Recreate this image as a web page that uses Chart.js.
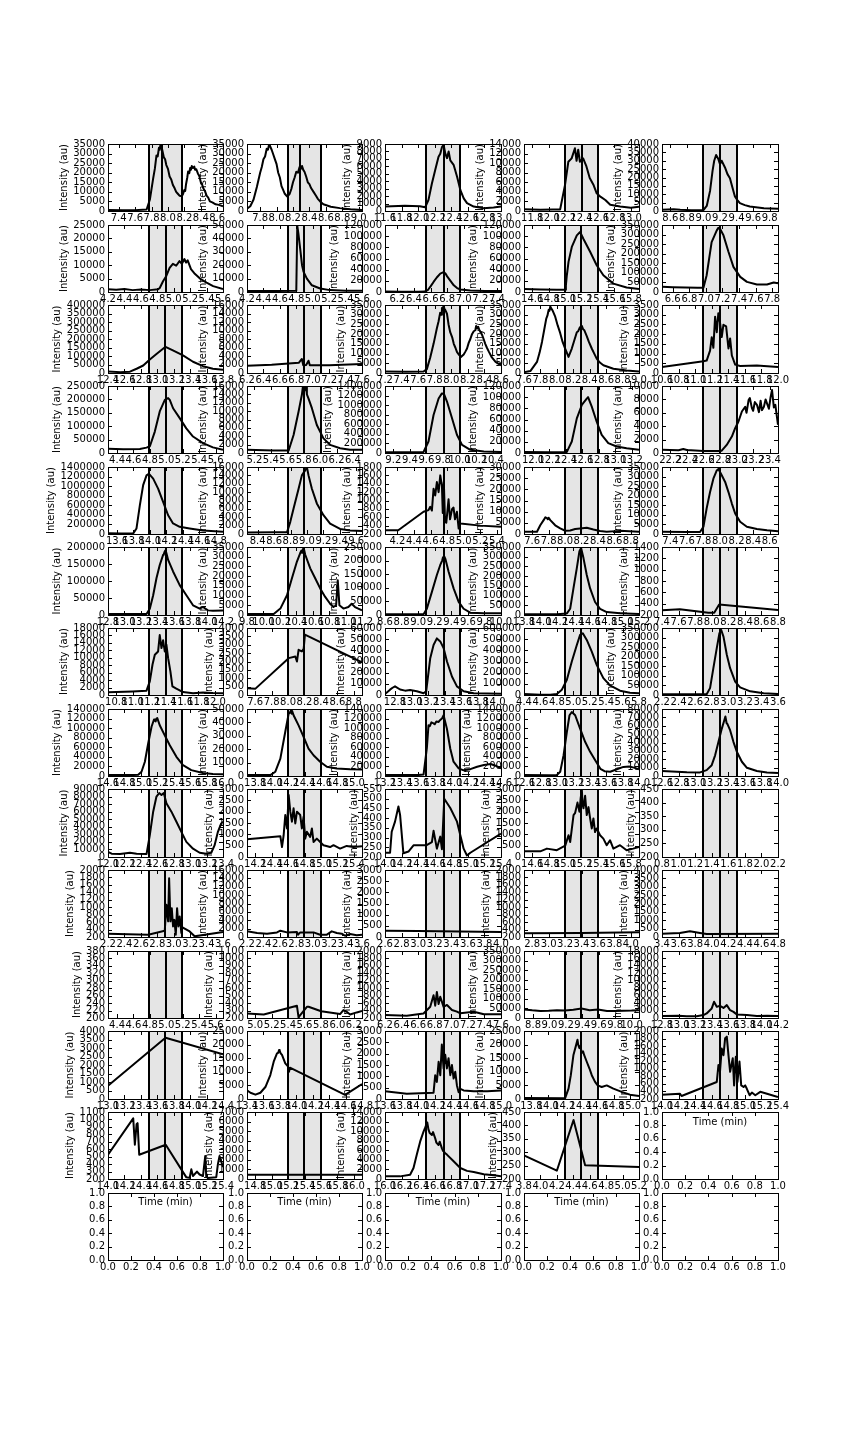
<!DOCTYPE html>
<html><head><meta charset="utf-8">
<script src="https://cdn.jsdelivr.net/npm/chart.js@4.4.1/dist/chart.umd.min.js"></script>
<style>
html,body{margin:0;padding:0;background:#fff;}
#fig{position:relative;width:864px;height:1440px;background:#fff;overflow:hidden;}
#fig canvas{position:absolute;}
</style></head><body><div id="fig"></div>
<script>
// ---------- per-panel axis ranges and integration windows (minutes) ----------
const xMin = [7.27,7.64,11.6,11.70,8.50, 4.2,4.2,6.05,14.5,6.47, 12.4,6.2,7.2,7.6,10.6, 4.29,5.11,9.1,11.89,22.1,
  13.49,8.27,4.05,7.5,7.3, 12.8,9.8,8.6,13.8,7.4, 10.7,7.5,12.68,4.4,2.2, 14.6,13.7,13.2,12.6,12.6,
  12.0,14.1,14.0,14.5,0.8, 2.2,2.2,2.6,2.7,3.4, 4.29,4.9,6.2,8.69,12.8, 13.0,13.4,13.6,13.71,14.0, 14.0,14.7,16.0,3.8];
const xMax = [8.67,9.04,13.0,13.10,9.90, 5.6,5.6,7.45,15.9,7.87, 13.8,7.6,8.6,9.0,12.0, 5.69,6.51,10.5,13.29,23.5,
  14.89,9.67,5.45,8.9,8.7, 14.2,11.2,10.0,15.2,8.8, 12.1,8.9,14.08,5.8,3.6, 16.0,15.1,14.6,14.0,14.0,
  13.4,15.5,15.4,15.9,2.2, 3.6,3.6,4.0,4.1,4.8, 5.69,6.3,7.6,10.09,14.2, 14.4,14.8,15.0,15.11,15.4, 15.4,16.1,17.4,5.2];
const winStart = [7.77,8.14,12.1,12.20,9.0, 4.7,4.7,6.55,15.0,6.97, 12.9,6.7,7.7,8.1,11.1, 4.79,5.61,9.6,12.39,22.6,
  13.99,8.77,4.55,8.0,7.8, 13.3,10.3,9.1,14.3,7.9, 11.2,8.0,13.18,4.9,2.7, 15.1,14.2,13.7,13.1,13.1,
  12.5,14.6,14.5,15.0,1.3, 2.7,2.7,3.1,3.2,3.9, 4.79,5.4,6.7,9.19,13.3, 13.5,13.9,14.1,14.21,14.5, 14.5,15.2,16.5,4.3];
const apexTime = [7.93,8.29,12.31,12.40,9.20, 4.90,4.89,6.76,15.20,7.17, 13.10,6.89,7.91,8.295,11.30, 4.99,5.80,9.81,12.585,22.80,
  14.19,8.96,4.757,8.195,8.00, 13.50,10.49,9.307,14.495,8.10, 11.40,8.19,13.387,5.095,2.90, 15.30,14.39,13.907,13.295,13.30,
  12.70,14.79,14.707,15.195,1.50, 2.90,2.889,3.307,3.395,4.10, 4.99,5.589,6.907,9.385,13.50, 13.70,14.09,14.307,14.405,14.70, 14.70,15.389,16.707,4.495];
const winEnd = [8.17,8.54,12.5,12.60,9.4, 5.1,5.1,6.95,15.4,7.37, 13.3,7.1,8.1,8.5,11.5, 5.19,6.01,10.0,12.79,23.0,
  14.39,9.17,4.95,8.4,8.2, 13.7,10.7,9.5,14.7,8.3, 11.6,8.4,13.58,5.3,3.1, 15.5,14.6,14.1,13.5,13.5,
  12.9,15.0,14.9,15.4,1.7, 3.1,3.1,3.5,3.6,4.3, 5.19,5.8,7.1,9.59,13.7, 13.9,14.3,14.5,14.61,14.9, 14.9,15.6,16.9,4.7];
// ---------- intensity axes ----------
const yMin = [0,0,0,0,0, 0,0,0,0,0, 0,0,0,0,0, 0,0,0,0,0, 0,0,200,0,0, 0,0,0,0,200, 0,0,0,0,0, 0,0,0,0,0,
  0,0,200,0,200, 200,0,0,200,0, 200,200,200,0,0, 0,0,0,0,200, 200,0,0,200];
const yMax = [35000,35000,9000,14000,40000, 25000,50000,120000,120000,350000, 400000,16000,35000,35000,3500,
  250000,16000,1400000,120000,10000, 1400000,16000,1800,30000,35000, 200000,35000,250000,350000,1400,
  18000,4000,60000,600000,350000, 140000,50000,140000,1400000,80000, 90000,3000,550,3000,450,
  2000,16000,3000,2000,4000, 380,1100,2000,350000,18000, 4000,25000,3000,25000,2000, 1100,7000,14000,450];
const yStep = [5000,5000,1000,2000,5000, 5000,10000,20000,20000,50000, 50000,2000,5000,5000,500,
  50000,2000,200000,20000,2000, 200000,2000,200,5000,5000, 50000,5000,50000,50000,200,
  2000,500,10000,100000,50000, 20000,10000,20000,200000,10000, 10000,500,50,500,50,
  200,2000,500,200,500, 20,100,200,50000,2000, 500,5000,500,5000,200, 100,1000,2000,50];
const xTickStep = 0.2;
const emptyTicks = [0.0,0.2,0.4,0.6,0.8,1.0];

// ---------- chromatogram traces [time, intensity] ----------
const P01=[[7.27,500],[7.45,400],[7.60,450],[7.74,800],[7.78,6000],[7.82,17000],[7.84,22000],[7.86,29000],[7.875,28500],[7.89,33000],[7.90,32000],[7.91,35000],[7.92,33500],[7.93,32000],[7.95,28000],[7.965,27000],[7.98,24000],[8.0,22000],[8.02,18000],[8.04,16500],[8.06,13600],[8.08,12000],[8.10,10000],[8.12,9000],[8.14,8000],[8.16,7800],[8.18,8500],[8.20,11000],[8.21,10500],[8.22,14000],[8.235,17500],[8.245,20600],[8.26,19800],[8.27,22500],[8.28,21500],[8.29,23500],[8.305,22500],[8.32,23200],[8.33,21500],[8.345,21800],[8.365,19500],[8.38,18500],[8.40,15000],[8.415,14000],[8.43,11900],[8.45,10500],[8.47,8000],[8.49,7000],[8.51,5000],[8.54,4500],[8.58,3500],[8.62,3200],[8.67,2500]];
const P02=[[7.64,1200],[7.68,2500],[7.72,6000],[7.76,12500],[7.80,20000],[7.82,23000],[7.84,27000],[7.86,28500],[7.88,32500],[7.895,32000],[7.91,35000],[7.925,33500],[7.94,32000],[7.96,29500],[7.98,27000],[8.0,24500],[8.02,20000],[8.04,17500],[8.06,13000],[8.08,11000],[8.10,9000],[8.13,7500],[8.16,9000],[8.18,11500],[8.20,15000],[8.22,17500],[8.24,20500],[8.26,20000],[8.28,23000],[8.295,22000],[8.31,23500],[8.325,21500],[8.34,20500],[8.36,18000],[8.38,15000],[8.40,14000],[8.42,12000],[8.45,10000],[8.48,8000],[8.50,6500],[8.53,5000],[8.57,3500],[8.66,2200],[8.77,1500],[8.90,900],[9.04,500]];
const P03=[[11.6,600],[11.84,700],[12.02,650],[12.085,500],[12.125,1500],[12.166,3700],[12.206,5500],[12.246,7300],[12.267,7700],[12.288,8600],[12.307,8900],[12.328,7700],[12.348,7100],[12.368,8000],[12.388,6800],[12.428,6200],[12.47,4600],[12.51,2800],[12.55,1700],[12.59,1050],[12.67,600],[12.79,380],[12.91,470],[13.0,600]];
const P04=[[11.70,350],[11.90,250],[12.05,300],[12.14,300],[12.20,5500],[12.24,10300],[12.28,11000],[12.32,13100],[12.34,10500],[12.36,12800],[12.38,10300],[12.42,11000],[12.46,9300],[12.50,6900],[12.545,5500],[12.585,3700],[12.63,3000],[12.69,2300],[12.75,1300],[12.87,950],[13.0,700],[13.10,900]];
const P05=[[8.50,700],[8.64,1100],[8.72,800],[8.85,500],[8.98,500],[9.0,600],[9.04,3000],[9.08,12000],[9.11,24000],[9.13,30000],[9.153,33400],[9.18,31000],[9.20,28000],[9.22,30000],[9.26,26000],[9.29,22000],[9.32,19600],[9.35,14000],[9.38,8700],[9.41,6500],[9.44,4700],[9.50,3500],[9.56,2700],[9.73,1700],[9.90,1300]];
const P06=[[4.20,1000],[4.30,800],[4.40,1100],[4.50,700],[4.60,900],[4.71,700],[4.81,1000],[4.83,1500],[4.87,4000],[4.91,6000],[4.95,9000],[4.99,10500],[5.03,9800],[5.07,11500],[5.10,10500],[5.13,12300],[5.15,11000],[5.17,11800],[5.21,8500],[5.25,7000],[5.32,5000],[5.40,3500],[5.48,2200],[5.60,1100]];
const P07=[[4.20,800],[4.50,700],[4.80,900],[4.812,49500],[4.825,44000],[4.848,32000],[4.87,20000],[4.889,15000],[4.929,10000],[4.99,5000],[5.09,2600],[5.21,1400],[5.40,1000],[5.60,900]];
const P08=[[6.05,800],[6.25,600],[6.45,500],[6.53,700],[6.57,4000],[6.60,10000],[6.636,18000],[6.675,26000],[6.717,33000],[6.757,35500],[6.78,33000],[6.80,28000],[6.84,20000],[6.88,12000],[6.92,7000],[6.96,4500],[7.08,2800],[7.25,2000],[7.45,1600]];
const P09=[[14.5,5200],[14.7,4500],[14.9,4000],[15.0,4000],[15.01,12000],[15.02,28000],[15.042,54000],[15.082,80700],[15.143,101500],[15.183,107500],[15.224,95000],[15.305,72000],[15.385,48000],[15.466,30000],[15.588,15000],[15.749,8000],[15.9,5200]];
const P10=[[6.47,27000],[6.60,25000],[6.75,24000],[6.90,22000],[6.97,22000],[7.009,88000],[7.069,261000],[7.131,322000],[7.15,335000],[7.17,330000],[7.212,296000],[7.272,210000],[7.332,131000],[7.414,79000],[7.495,53000],[7.615,39500],[7.737,39500],[7.818,50000],[7.87,45000]];
const P11=[[12.4,9500],[12.55,5000],[12.667,8000],[12.748,25000],[12.829,44000],[12.909,80000],[12.99,112000],[13.10,154000],[13.19,133000],[13.313,104000],[13.435,66000],[13.556,40000],[13.677,25000],[13.80,19500]];
const P12=[[6.2,1700],[6.5,1950],[6.83,2400],[6.868,3300],[6.885,1800],[6.92,1900],[6.949,2900],[6.965,1800],[7.2,1850],[7.6,2100]];
const P13=[[7.2,800],[7.45,600],[7.665,800],[7.705,2000],[7.746,8000],[7.786,15000],[7.806,19000],[7.826,23000],[7.846,26500],[7.866,31000],[7.877,30000],[7.887,33400],[7.897,32500],[7.907,35000],[7.917,33000],[7.927,32500],[7.948,30500],[7.967,25000],[7.987,21000],[8.01,18500],[8.03,15000],[8.05,13000],[8.068,10900],[8.09,9500],[8.117,8300],[8.15,9500],[8.17,11000],[8.19,12600],[8.21,15500],[8.23,17500],[8.25,20000],[8.271,21500],[8.29,22000],[8.30,24200],[8.312,23000],[8.325,23800],[8.34,22000],[8.355,21000],[8.372,19600],[8.39,17500],[8.41,15000],[8.43,13000],[8.453,11000],[8.49,8000],[8.534,5700],[8.6,3900]];
const P14=[[7.6,400],[7.677,1000],[7.758,5700],[7.79,10500],[7.819,16000],[7.845,22000],[7.871,28000],[7.885,29500],[7.90,32500],[7.91,32000],[7.92,34300],[7.935,33000],[7.95,32000],[7.98,29000],[8.01,24500],[8.041,20500],[8.07,16000],[8.101,12600],[8.142,8300],[8.182,12600],[8.21,16500],[8.243,21000],[8.26,21500],[8.28,23500],[8.29,22500],[8.304,24200],[8.32,22500],[8.335,22000],[8.364,19000],[8.39,16000],[8.425,12600],[8.455,10000],[8.485,7400],[8.52,5500],[8.566,4000],[8.688,2200],[8.849,1300],[9.0,800]];
const P15=[[10.6,310],[11.1,600],[11.139,640],[11.18,1150],[11.20,1840],[11.22,1300],[11.241,2900],[11.261,2100],[11.28,3080],[11.30,2600],[11.321,1850],[11.341,2480],[11.374,2400],[11.402,1260],[11.422,1780],[11.443,900],[11.483,430],[11.543,360],[11.745,380],[12.0,310]];
const P16=[[4.29,15700],[4.476,14000],[4.678,15000],[4.759,20000],[4.80,25000],[4.86,80000],[4.92,155000],[4.982,198000],[5.022,205000],[5.042,198000],[5.082,167000],[5.163,130000],[5.243,92000],[5.325,61500],[5.446,37000],[5.567,21000],[5.69,12000]];
const P17=[[5.11,770],[5.435,600],[5.617,600],[5.677,4300],[5.738,9900],[5.778,13900],[5.79,15800],[5.80,14500],[5.819,15400],[5.83,15900],[5.839,14000],[5.859,13000],[5.90,10700],[5.96,6700],[6.041,3500],[6.122,1950],[6.243,1150],[6.364,770],[6.51,770]];
const P18=[[9.1,15000],[9.4,15000],[9.565,20000],[9.625,240000],[9.686,795000],[9.747,1140000],[9.787,1245000],[9.81,1240000],[9.848,1075000],[9.908,730000],[9.968,380000],[10.03,170000],[10.13,67000],[10.293,33000],[10.5,19000]];
const P19=[[11.89,1600],[12.2,1500],[12.412,2000],[12.472,20600],[12.533,62000],[12.594,86000],[12.654,97500],[12.67,100000],[12.715,83000],[12.775,56000],[12.836,32500],[12.916,17700],[13.017,11700],[13.139,8700],[13.29,5800]];
const P20=[[22.1,480],[22.3,400],[22.357,600],[22.4,450],[22.6,300],[22.8,300],[22.821,350],[22.881,1200],[22.943,2450],[22.983,3700],[23.023,4700],[23.064,6200],[23.104,6900],[23.12,6000],[23.145,7900],[23.16,8200],[23.185,6700],[23.20,6300],[23.22,7600],[23.246,7200],[23.27,6100],[23.29,7800],[23.306,6400],[23.33,6900],[23.35,8000],[23.367,7400],[23.39,6600],[23.41,8300],[23.428,9400],[23.45,6800],[23.468,7200],[23.50,4200]];
const P21=[[13.49,15000],[13.65,8000],[13.797,12000],[13.837,116000],[13.878,603000],[13.918,1020000],[13.959,1226000],[13.987,1260000],[14.04,1157000],[14.10,948000],[14.161,670000],[14.222,392000],[14.282,221000],[14.363,151000],[14.484,116000],[14.646,75000],[14.89,47000]];
const P22=[[8.27,380],[8.60,400],[8.757,400],[8.797,2900],[8.837,6100],[8.898,10800],[8.938,14000],[8.978,15200],[8.999,16000],[9.019,14000],[9.06,10800],[9.12,7300],[9.201,4500],[9.282,2500],[9.403,1200],[9.524,850],[9.67,700]];
const P23=[[4.05,290],[4.21,290],[4.515,730],[4.575,770],[4.596,850],[4.616,760],[4.636,1280],[4.656,1120],[4.676,1440],[4.697,1200],[4.717,1600],[4.737,1350],[4.747,700],[4.76,1440],[4.775,500],[4.79,470],[4.817,1030],[4.835,550],[4.86,800],[4.877,830],[4.895,550],[4.918,730],[4.939,330],[4.947,490],[4.96,450],[5.2,400],[5.45,375]];
const P24=[[7.5,1000],[7.658,1000],[7.698,3900],[7.739,6200],[7.76,7500],[7.779,7100],[7.79,6600],[7.80,7300],[7.82,6200],[7.88,3900],[7.941,2500],[8.002,1450],[8.062,1600],[8.123,2200],[8.184,2500],[8.264,2800],[8.345,2000],[8.426,1300],[8.506,1000],[8.668,1400],[8.9,1000]];
const P25=[[7.3,1200],[7.6,1000],[7.759,1000],[7.8,3800],[7.839,13400],[7.88,21900],[7.92,28900],[7.961,33200],[7.981,34000],[8.021,30700],[8.062,27200],[8.102,21900],[8.143,15900],[8.183,10700],[8.243,6400],[8.324,3800],[8.445,2600],[8.567,1900],[8.70,1500]];
const P26=[[12.8,2800],[13.0,3000],[13.269,3000],[13.309,18600],[13.35,58000],[13.39,108000],[13.43,147000],[13.471,177000],[13.48,180000],[13.491,187000],[13.50,190000],[13.51,183000],[13.532,162000],[13.592,128000],[13.673,88000],[13.754,58000],[13.835,28600],[13.916,18600],[13.956,23600],[14.017,13600],[14.077,12700],[14.2,13600]];
const P27=[[9.8,470],[10.125,500],[10.206,3300],[10.287,10200],[10.347,18900],[10.408,27500],[10.448,31900],[10.46,33000],[10.47,32000],[10.477,33600],[10.49,34500],[10.509,31000],[10.57,24000],[10.63,18900],[10.691,13700],[10.752,9300],[10.812,5800],[10.853,4100],[10.885,5000],[10.905,17900],[10.925,5000],[10.974,3300],[11.034,4100],[11.074,5800],[11.115,4100],[11.2,2400]];
const P28=[[8.6,2500],[9.0,2500],[9.065,3000],[9.105,23000],[9.166,85000],[9.226,147000],[9.267,184000],[9.29,200000],[9.30,212000],[9.315,215000],[9.33,205000],[9.367,160000],[9.428,98000],[9.489,48000],[9.549,23000],[9.63,8500],[9.793,6000],[10.0,6000]];
const P29=[[13.8,3500],[14.2,3500],[14.322,8000],[14.362,32000],[14.402,137000],[14.443,241000],[14.475,328000],[14.495,345000],[14.524,293000],[14.564,206000],[14.605,137000],[14.665,67000],[14.726,32000],[14.807,15000],[14.969,8700],[15.2,5200]];
const P30=[[7.4,282],[7.616,300],[7.96,240],[8.03,240],[8.09,385],[8.8,290]];
const P31=[[10.7,710],[11.0,950],[11.169,1160],[11.209,3650],[11.242,8200],[11.27,10800],[11.31,11700],[11.33,16100],[11.351,12600],[11.371,14700],[11.391,11700],[11.411,13500],[11.432,9900],[11.46,6300],[11.484,2300],[11.532,1700],[11.613,800],[11.735,450],[11.856,700],[11.977,530],[12.1,450]];
const P32=[[7.5,400],[7.603,380],[8.007,2200],[8.088,2300],[8.108,2000],[8.128,2700],[8.168,2600],[8.19,2750],[8.205,3600],[8.9,1950]];
const P33=[[12.68,900],[12.741,4800],[12.771,6500],[12.801,7800],[12.862,4900],[12.922,3900],[12.983,4400],[13.064,3300],[13.145,1500],[13.177,3300],[13.226,33000],[13.266,44800],[13.306,50700],[13.347,48000],[13.387,42000],[13.428,30000],[13.488,16600],[13.548,7700],[13.629,3300],[13.751,1500],[14.08,1200]];
const P34=[[4.4,9000],[4.6,3000],[4.72,2000],[4.80,9000],[4.861,48000],[4.922,137000],[4.982,300000],[5.043,448000],[5.083,538000],[5.116,553000],[5.164,493000],[5.225,389000],[5.285,270000],[5.366,151000],[5.447,86000],[5.569,39000],[5.69,21000],[5.8,15000]];
const P35=[[2.2,3500],[2.739,3500],[2.78,36000],[2.82,140000],[2.861,245000],[2.893,323000],[2.914,340000],[2.942,305000],[2.982,210000],[3.022,140000],[3.083,70000],[3.143,40000],[3.265,19000],[3.427,8700],[3.6,5000]];
const P36=[[14.6,2000],[14.9,2000],[14.968,2500],[15.008,8900],[15.049,29700],[15.089,68000],[15.13,103000],[15.16,118000],[15.17,116000],[15.18,114000],[15.19,120000],[15.20,121000],[15.23,106000],[15.291,85000],[15.352,64400],[15.433,40000],[15.513,22800],[15.614,12300],[15.756,6100],[15.877,4000],[16.0,3400]];
const P37=[[13.7,700],[13.984,700],[14.045,3200],[14.106,13000],[14.166,33000],[14.207,46500],[14.22,47000],[14.235,49000],[14.245,46500],[14.25,48500],[14.267,45300],[14.328,37800],[14.389,29200],[14.449,20500],[14.51,15500],[14.59,10600],[14.672,6900],[14.792,5600],[14.954,5100],[15.1,4900]];
const P38=[[13.2,2000],[13.6,2000],[13.665,3000],[13.705,58000],[13.725,106000],[13.74,104000],[13.76,112000],[13.786,110000],[13.80,108000],[13.82,114000],[13.847,113000],[13.86,116000],[13.887,120000],[13.907,127000],[13.947,99000],[13.988,57000],[14.027,30000],[14.089,16000],[14.149,11800],[14.23,14300],[14.312,19300],[14.393,22800],[14.474,25000],[14.534,21500],[14.6,15900]];
const P39=[[12.6,19000],[12.9,15000],[13.0,20000],[13.041,89000],[13.082,436000],[13.122,920000],[13.154,1270000],[13.182,1337000],[13.223,1270000],[13.283,990000],[13.344,715000],[13.405,505000],[13.465,332000],[13.53,150000],[13.58,100000],[13.65,90000],[13.73,140000],[13.81,190000],[13.88,200000],[13.95,170000],[14.0,140000]];
const P40=[[12.6,5900],[12.9,4500],[13.059,4300],[13.139,7000],[13.2,12900],[13.241,24700],[13.281,40500],[13.321,56300],[13.35,66000],[13.365,71000],[13.38,63000],[13.39,62000],[13.422,54700],[13.463,40500],[13.503,28900],[13.564,17000],[13.625,9800],[13.745,5900],[13.867,4300],[14.0,3500]];
const P41=[[12.0,6600],[12.044,4400],[12.146,3900],[12.267,5700],[12.348,4400],[12.469,3900],[12.509,28900],[12.55,60000],[12.59,80000],[12.623,84600],[12.651,82000],[12.679,84600],[12.711,71000],[12.772,60000],[12.833,46700],[12.893,33300],[12.954,20000],[13.035,11000],[13.116,5600],[13.196,4400],[13.257,5600],[13.297,15300],[13.338,33300],[13.378,44500],[13.4,46700]];
const P42=[[14.1,785],[14.506,920],[14.526,440],[14.546,950],[14.566,1850],[14.587,1260],[14.607,2740],[14.627,2000],[14.647,1560],[14.667,2150],[14.688,1480],[14.708,2000],[14.748,1850],[14.768,1260],[14.789,1770],[14.809,810],[14.829,1110],[14.869,890],[14.89,1260],[14.91,665],[14.95,810],[14.991,665],[15.031,520],[15.112,440],[15.153,520],[15.233,370],[15.314,490],[15.395,440],[15.5,475]];
const P43=[[14.0,222],[14.061,222],[14.081,330],[14.121,382],[14.162,460],[14.182,417],[14.222,219],[14.283,228],[14.344,260],[14.424,260],[14.497,260],[14.566,277],[14.586,335],[14.626,243],[14.667,305],[14.687,240],[14.715,500],[14.788,452],[14.869,382],[14.909,312],[14.949,243],[14.989,208],[15.03,222],[15.4,320]];
const P44=[[14.5,250],[14.698,250],[14.779,370],[14.9,300],[15.002,500],[15.042,960],[15.062,660],[15.103,1850],[15.123,1950],[15.151,2400],[15.175,2000],[15.19,2600],[15.204,2980],[15.214,2300],[15.224,2150],[15.244,2700],[15.264,1850],[15.285,2200],[15.305,1700],[15.325,1260],[15.345,1700],[15.365,1100],[15.385,1260],[15.426,960],[15.466,810],[15.507,520],[15.547,740],[15.588,370],[15.669,520],[15.749,300],[15.83,370],[15.9,440]];
const P45=[];
const P46=[[2.2,290],[2.689,262],[2.891,370],[2.911,1064],[2.932,620],[2.944,1780],[2.96,620],[2.976,975],[2.992,485],[3.008,660],[3.025,262],[3.041,975],[3.057,485],[3.073,750],[3.093,307],[3.106,460],[3.194,350],[3.255,218],[3.6,335]];
const P47=[[2.2,1350],[2.323,950],[2.444,800],[2.565,1100],[2.606,1500],[2.687,1100],[2.808,1190],[2.82,550],[2.848,1100],[2.929,1100],[3.01,1100],[3.091,550],[3.172,550],[3.232,1350],[3.293,950],[3.353,800],[3.394,300],[3.455,700],[3.535,400],[3.6,550]];
const P48=[[2.6,280],[3.0,265],[3.5,245],[4.0,225]];
const P49=[[2.7,300],[3.4,310],[4.1,325]];
const P50=[[3.4,200],[3.616,240],[3.737,340],[3.859,240],[3.939,180],[4.8,200]];
const P51=[];
const P52=[[4.9,262],[5.104,248],[5.508,364],[5.528,205],[5.548,240],[5.629,351],[5.649,351],[5.803,290],[6.033,253],[6.074,307],[6.114,284],[6.155,248],[6.236,275],[6.3,293]];
const P53=[[6.2,280],[6.463,260],[6.665,322],[6.746,500],[6.786,812],[6.806,530],[6.826,900],[6.847,575],[6.867,770],[6.907,500],[6.948,550],[7.008,415],[7.068,370],[7.109,325],[7.271,370],[7.393,300],[7.6,300]];
const P54=[[8.69,45000],[8.79,40000],[8.89,36000],[8.99,38000],[9.09,41000],[9.19,39000],[9.29,43000],[9.39,50000],[9.49,41000],[9.59,44000],[9.70,36000],[9.80,37000],[9.90,38000],[10.0,39000],[10.09,41000]];
const P55=[[12.8,520],[13.0,600],[13.097,450],[13.218,500],[13.30,780],[13.339,1230],[13.40,2570],[13.428,4350],[13.461,3000],[13.50,3280],[13.542,2700],[13.582,3460],[13.622,2100],[13.663,1650],[13.703,940],[13.824,780],[13.945,520],[14.067,600],[14.2,520]];
const P56=[[13.0,780],[13.70,3600],[14.4,2630]];
const P57=[[13.4,3200],[13.442,2300],[13.503,1600],[13.563,2300],[13.624,4400],[13.684,8800],[13.725,13700],[13.765,16800],[13.78,17000],[13.79,18000],[13.798,17700],[13.81,16800],[13.826,16200],[13.866,13100],[13.898,12000],[13.911,10000],[13.923,11500],[14.594,1500],[14.8,5500]];
const P58=[[13.6,340],[13.863,235],[14.105,265],[14.186,280],[14.206,1050],[14.226,750],[14.247,1640],[14.267,1050],[14.286,2400],[14.307,1350],[14.327,1950],[14.347,1350],[14.367,1800],[14.388,1050],[14.408,1500],[14.428,900],[14.448,1200],[14.468,600],[14.489,300],[14.509,450],[14.549,380],[14.671,340],[14.832,340],[15.0,380]];
const P59=[[13.71,350],[14.211,300],[14.252,3800],[14.28,8750],[14.312,16200],[14.345,19900],[14.361,21800],[14.37,20000],[14.385,18700],[14.395,19500],[14.414,17000],[14.43,17500],[14.442,16200],[14.474,13700],[14.507,11200],[14.535,8750],[14.575,6300],[14.607,5000],[14.656,4400],[14.717,5000],[14.798,3800],[14.899,2600],[15.0,1600],[15.11,1100]];
const P60=[[14.0,313],[14.216,340],[14.236,280],[14.661,650],[14.681,1100],[14.7,920],[14.721,1540],[14.742,1360],[14.762,1810],[14.782,1850],[14.802,1360],[14.822,920],[14.854,1280],[14.87,560],[14.891,1320],[14.911,650],[14.935,1190],[14.956,560],[14.984,520],[15.004,560],[15.024,470],[15.057,300],[15.085,370],[15.126,300],[15.186,390],[15.267,340],[15.4,250]];
const P61=[[14.0,525],[14.307,1015],[14.327,660],[14.348,935],[14.36,950],[14.38,525],[14.703,660],[14.954,222],[14.994,215],[15.014,330],[15.034,240],[15.083,300],[15.115,260],[15.156,240],[15.184,510],[15.196,230],[15.216,215],[15.318,225],[15.338,400],[15.358,510],[15.4,360]];
const P62=[[14.7,450],[15.4,440],[16.1,450]];
const P63=[[16.0,550],[16.182,550],[16.303,900],[16.344,2300],[16.384,5100],[16.424,7800],[16.465,9900],[16.48,10500],[16.497,11300],[16.51,11800],[16.525,10300],[16.54,9600],[16.566,9200],[16.58,9800],[16.606,8500],[16.62,7600],[16.646,7100],[16.66,7800],[16.687,6400],[16.70,5900],[16.727,5400],[16.747,5100],[16.828,3700],[16.909,2300],[16.99,1700],[17.071,1450],[17.192,1000],[17.314,760],[17.4,550]];
const P64=[[3.8,288],[4.2,231],[4.403,420],[4.544,251],[5.2,245]];
const traces=[P01,P02,P03,P04,P05,P06,P07,P08,P09,P10,P11,P12,P13,P14,P15,P16,P17,P18,P19,P20,P21,P22,P23,P24,P25,P26,P27,P28,P29,P30,
  P31,P32,P33,P34,P35,P36,P37,P38,P39,P40,P41,P42,P43,P44,P45,P46,P47,P48,P49,P50,P51,P52,P53,P54,P55,P56,P57,P58,P59,P60,P61,P62,P63,P64];
const timeLabelPanels=[59,60,61,62,63];

// ---------- layout ----------
Chart.defaults.font.family='DejaVu Sans';
Chart.defaults.font.size=10;
Chart.defaults.color='#000';
const FONT={family:'DejaVu Sans',size:10};
const fig=document.getElementById('fig');
const meas=document.createElement('canvas').getContext('2d');
meas.font='10px "DejaVu Sans"';
const COL_L=[108,247,385,524,662], COL_R=[223,362,501,639,778];
const rowTop=r=>Math.round(144+r*80.67), rowBot=r=>Math.round(144+r*80.67+67.23);
const M={l:70,t:10,r:16,b:40};

function stepTicks(lo,hi,step){const out=[];const k0=Math.ceil(lo/step-1e-6),k1=Math.floor(hi/step+1e-6);for(let k=k0;k<=k1;k++)out.push(+(k*step).toFixed(6));return out;}

function panelPlugin(win){
  return {id:'panel',
    beforeDraw(chart){const{ctx,chartArea:a}=chart;ctx.save();ctx.fillStyle='#fff';ctx.fillRect(a.left,a.top,a.right-a.left,a.bottom-a.top);ctx.restore();},
    beforeDatasetsDraw(chart){
      if(!win)return;const{ctx,chartArea:a,scales:{x}}=chart;
      const ps=x.getPixelForValue(win[0]),pm=x.getPixelForValue(win[1]),pe=x.getPixelForValue(win[2]);
      ctx.save();ctx.fillStyle='#e5e5e5';ctx.fillRect(ps,a.top,pe-ps,a.bottom-a.top);
      ctx.strokeStyle='#000';ctx.lineWidth=2;
      [ps,pm,pe].forEach(p=>{const q=Math.round(p);ctx.beginPath();ctx.moveTo(q,a.top);ctx.lineTo(q,a.bottom);ctx.stroke();});
      ctx.restore();},
    afterDatasetsDraw(chart){
      const{ctx,chartArea:a,scales:{x,y}}=chart;ctx.save();ctx.strokeStyle='#000';ctx.lineWidth=1;ctx.beginPath();
      x.ticks.forEach(t=>{const p=Math.round(x.getPixelForValue(t.value))+0.5;ctx.moveTo(p,a.bottom);ctx.lineTo(p,a.bottom-4);ctx.moveTo(p,a.top);ctx.lineTo(p,a.top+4);});
      y.ticks.forEach(t=>{const p=Math.round(y.getPixelForValue(t.value))+0.5;ctx.moveTo(a.left,p);ctx.lineTo(a.left+4,p);ctx.moveTo(a.right,p);ctx.lineTo(a.right-4,p);});
      ctx.stroke();ctx.strokeRect(a.left+0.5,a.top+0.5,a.right-a.left,a.bottom-a.top);ctx.restore();}
  };
}

function addPanel(o){
  const L=COL_L[o.col],R=COL_R[o.col],T=rowTop(o.row),B=rowBot(o.row);
  const w=R-L,h=B-T,cw=w+M.l+M.r,ch=h+M.t+M.b;
  const cv=document.createElement('canvas');
  cv.width=cw;cv.height=ch;cv.style.left=(L-M.l)+'px';cv.style.top=(T-M.t)+'px';cv.style.width=cw+'px';cv.style.height=ch+'px';
  fig.appendChild(cv);
  const widest=Math.max(...o.yt.map(v=>meas.measureText(o.yFmt(v)).width));
  new Chart(cv,{
    type:'line',
    data:{datasets:[{data:o.data.map(([x,y])=>({x,y})),borderColor:'#000',borderWidth:2,pointRadius:0,pointHoverRadius:0,tension:0,fill:false,clip:0,borderJoinStyle:'round'}]},
    options:{responsive:false,maintainAspectRatio:false,devicePixelRatio:1,animation:false,events:[],
      layout:{padding:{left:0,top:M.t,right:M.r,bottom:0}},
      plugins:{legend:{display:false},tooltip:{enabled:false}},
      scales:{
        x:{type:'linear',min:o.xr[0],max:o.xr[1],bounds:'data',offset:false,
          afterBuildTicks:s=>{s.ticks=o.xt.map(v=>({value:v}));},
          afterFit:s=>{s.height=M.b;},
          grid:{display:false,drawTicks:false},border:{display:false},
          ticks:{autoSkip:false,maxRotation:0,minRotation:0,padding:1,color:'#000',font:FONT,callback:v=>o.xFmt(v)},
          title:{display:!!o.xTitle,text:o.xTitle||'',color:'#000',font:FONT,padding:{top:0,bottom:11}}},
        y:{type:'linear',min:o.yr[0],max:o.yr[1],bounds:'data',
          afterBuildTicks:s=>{s.ticks=o.yt.map(v=>({value:v}));},
          afterFit:s=>{s.width=M.l;},
          grid:{display:false,drawTicks:false},border:{display:false},
          ticks:{autoSkip:false,padding:3,color:'#000',font:FONT,callback:v=>o.yFmt(v)},
          title:{display:!!o.yTitle,text:o.yTitle||'',color:'#000',font:FONT,padding:{top:Math.max(0,52-widest),bottom:0}}}
      }},
    plugins:[panelPlugin(o.win)]
  });
}

const f1=v=>(+v).toFixed(1), fi=v=>String(Math.round(v));
// empty axes first (drawn underneath)
[[12,4],[13,0],[13,1],[13,2],[13,3],[13,4]].forEach(([r,c])=>addPanel({row:r,col:c,xr:[0,1],yr:[0,1],xt:emptyTicks,yt:emptyTicks,xFmt:f1,yFmt:f1,data:[],win:null}));
traces.forEach((tr,i)=>{
  addPanel({row:Math.floor(i/5),col:i%5,xr:[xMin[i],xMax[i]],yr:[yMin[i],yMax[i]],
    xt:stepTicks(xMin[i],xMax[i],xTickStep),yt:stepTicks(yMin[i],yMax[i],yStep[i]),
    xFmt:f1,yFmt:fi,data:tr,win:[winStart[i],apexTime[i],winEnd[i]],
    yTitle:'Intensity (au)',xTitle:timeLabelPanels.includes(i)?'Time (min)':''});
});
</script></body></html>
